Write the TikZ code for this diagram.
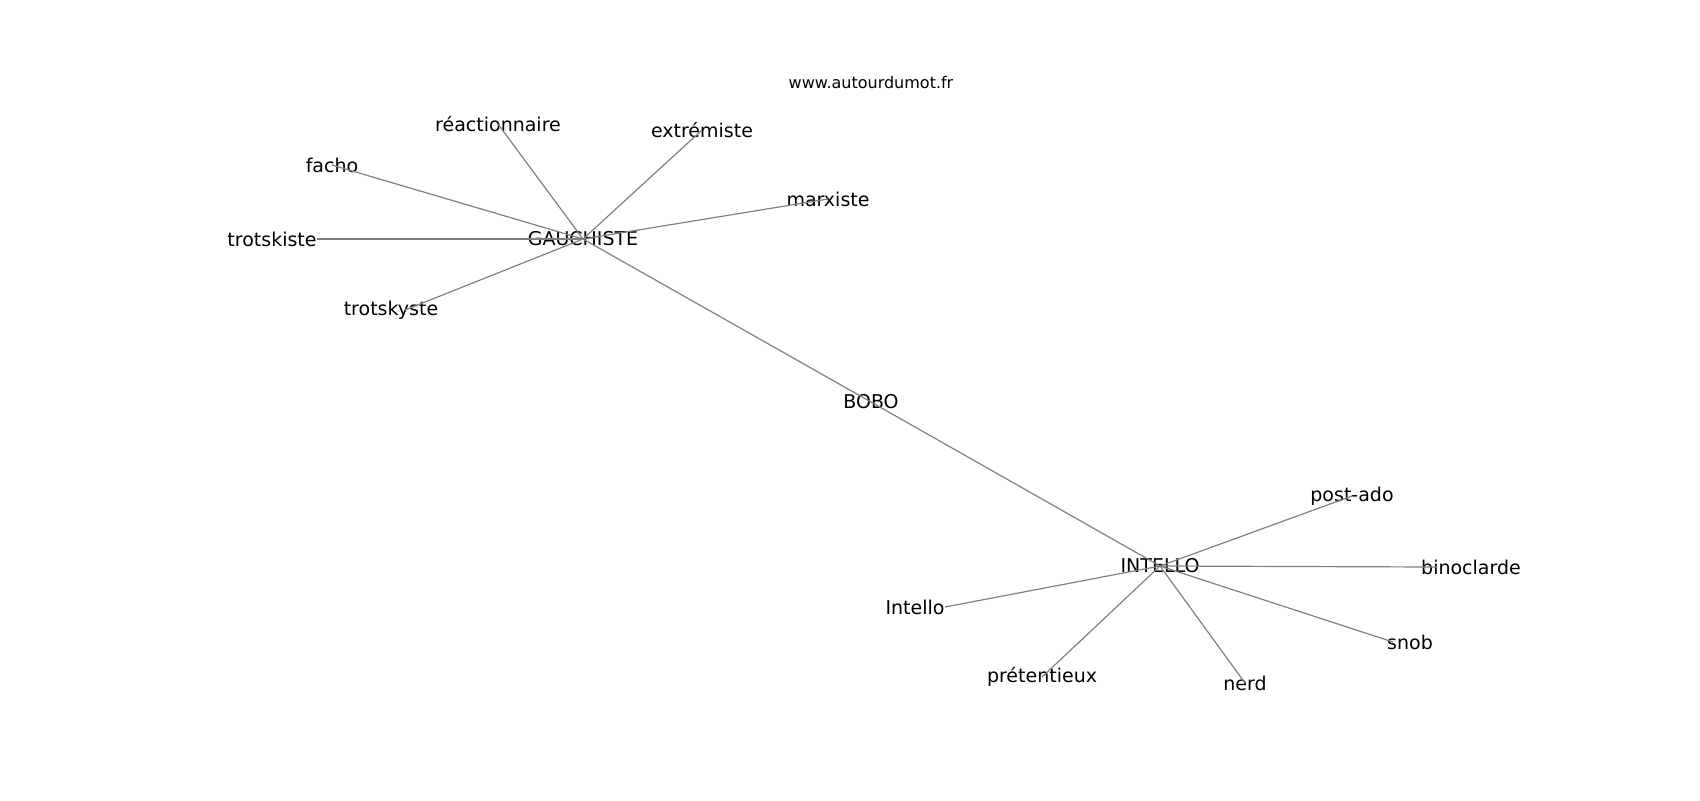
\documentclass[tikz,border=0pt]{standalone}
\usepackage{fontspec}
\setmainfont{DejaVu Sans}
\usepackage{tikz}

\begin{document}
\begin{tikzpicture}[x=0.5pt,y=-0.5pt]

    \tikzset{word/.style={inner sep=0pt, font=\fontsize{9.5}{11}\selectfont},
             link/.style={draw=gray, line width=0.6pt}}
    \useasboundingbox (0,0) rectangle (1700,800); %Frame

    %Title
    \node[inner sep=0pt, font=\fontsize{8}{10}\selectfont] (site) at (871,83) {www.autourdumot.fr};

    %Hubs
    \node[word] (gauchiste) at (583,239) {GAUCHISTE};
    \node[word] (bobo) at (871,402) {BOBO};
    \node[word] (intello) at (1160,566) {INTELLO};

    %Words round GAUCHISTE
    \node[word] (reac) at (498,124) {réactionnaire};
    \node[word] (extremiste) at (702,130) {extrémiste};
    \node[word] (facho) at (332,165) {facho};
    \node[word] (marxiste) at (828,199) {marxiste};
    \node[word] (trotskiste) at (272,239) {trotskiste};
    \node[word] (trotskyste) at (391,310) {trotskyste};

    %Words round INTELLO
    \node[word] (postado) at (1352,496) {post-ado};
    \node[word] (binoclarde) at (1471,567) {binoclarde};
    \node[word] (intellow) at (915,607) {Intello};
    \node[word] (snob) at (1410,642) {snob};
    \node[word] (pretentieux) at (1042,677) {prétentieux};
    \node[word] (nerd) at (1245,683) {nerd};

    %Links
    \draw[link] (gauchiste.center) -- (reac.center);
    \draw[link] (gauchiste.center) -- (extremiste.center);
    \draw[link] (gauchiste.center) -- (facho.center);
    \draw[link] (gauchiste.center) -- (marxiste.center);
    \draw[link] (gauchiste.center) -- (trotskiste.east);
    \draw[link] (gauchiste.center) -- ([xshift=7pt]trotskyste.center);
    \draw[link] (gauchiste.center) -- (bobo.center) -- (intello.center);
    \draw[link] (intello.center) -- (postado.center);
    \draw[link] (intello.center) -- ([xshift=-17pt]binoclarde.center);
    \draw[link] (intello.center) -- (intellow.east);
    \draw[link] (intello.center) -- ([xshift=-8.5pt]snob.center);
    \draw[link] (intello.center) -- (pretentieux.center);
    \draw[link] (intello.center) -- (nerd.center);

\end{tikzpicture}
\end{document}
